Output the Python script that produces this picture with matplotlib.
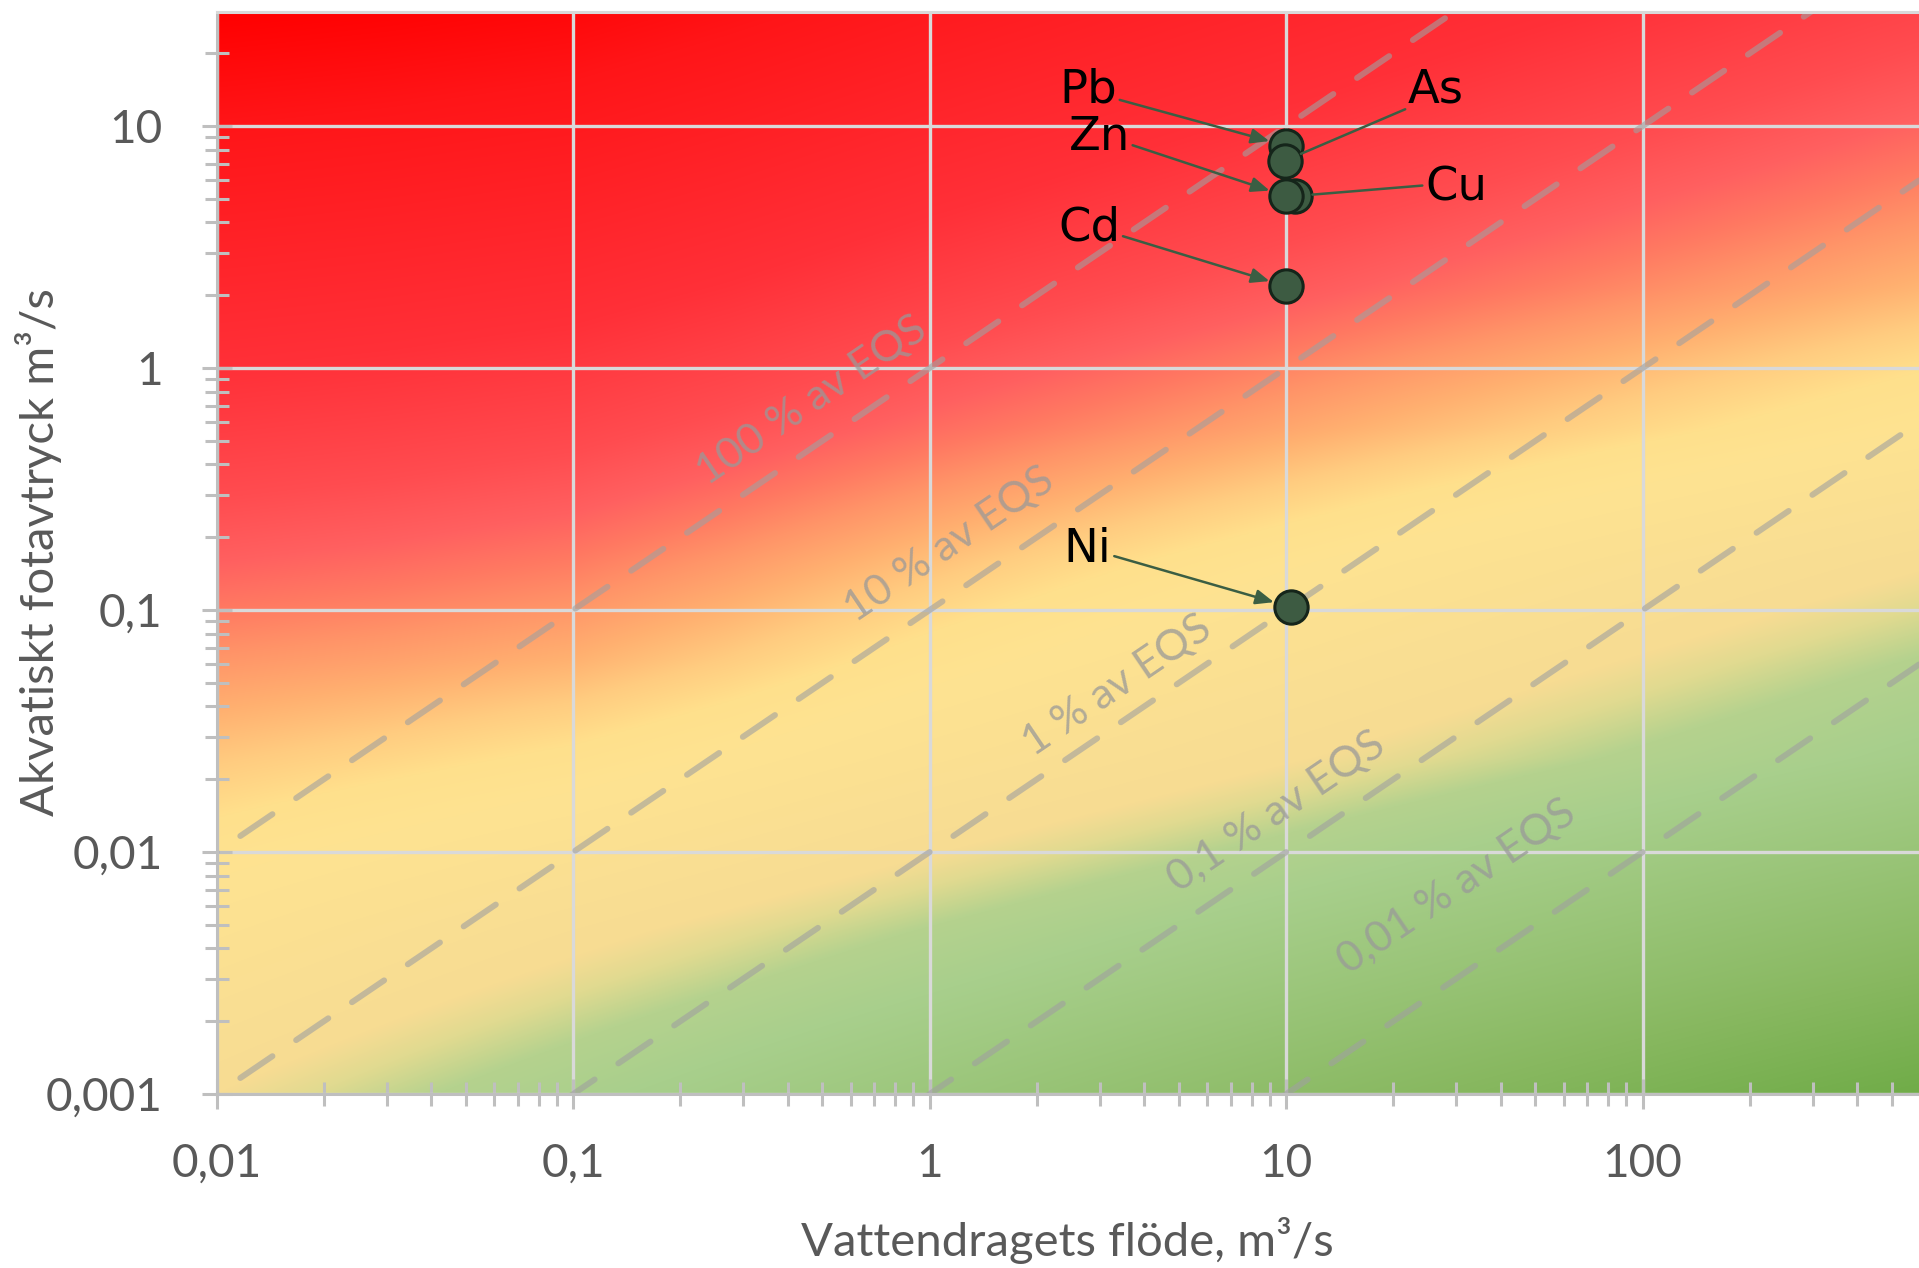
import numpy as np
import matplotlib
matplotlib.use("Agg")
import matplotlib.pyplot as plt
from matplotlib.colors import to_rgb
from matplotlib.ticker import FixedLocator, FixedFormatter, LogLocator, NullFormatter

# ---------------- data ----------------
metals = ["Pb", "As", "Cu", "Zn", "Cd", "Ni"]
flow = [10.0, 9.93, 10.6, 10.0, 10.0, 10.3]          # m3/s
footprint = [8.3, 7.2, 5.14, 5.14, 2.18, 0.103]      # m3/s

eqs_fractions = [1, 0.1, 0.01, 0.001, 0.0001]
eqs_labels = ["100 % av EQS", "10 % av EQS", "1 % av EQS", "0,1 % av EQS", "0,01 % av EQS"]

x_ticks = [0.01, 0.1, 1, 10, 100]
x_ticklabels = ["0,01", "0,1", "1", "10", "100"]
y_ticks = [0.001, 0.01, 0.1, 1, 10]
y_ticklabels = ["0,001", "0,01", "0,1", "1", "10"]

# ---------------- layout / style ----------------
W, H = 1919, 1268
X0_PX, Y0_PX = 216.6, 1094.1       # position of (0.01, 0.001)
DEC_X, DEC_Y = 356.5, 242.0        # pixels per decade
TOP_PX = 12

eqs_label_pos = [(0.466, 0.736), (1.14, 0.187), (3.37, 0.0489), (9.4, 0.0147), (30.1, 0.00716)]

label_offsets = {  # text baseline-centre offsets in points
    "Pb": (-142.6, 31.0), "As": (108.7, 41.8), "Zn": (-134.6, 33.1),
    "Cu": (115.9, -2.9), "Cd": (-141.8, 33.1), "Ni": (-146.2, 32.4)}
label_relpos = {"Pb": (1, 0.3), "As": (0, 0.1), "Zn": (1, 0.35),
                "Cu": (0, 0.55), "Cd": (1, 0.33), "Ni": (1, 0.37)}
arrow_heads = {"Pb": True, "As": False, "Zn": True, "Cu": False, "Cd": True, "Ni": True}

# background gradient: colour stops along t
grad_t = [0.0, 0.105, 0.33, 0.45, 0.509, 0.554, 0.595, 0.646, 0.696, 0.745, 0.80, 1.0,
          1.04, 1.09, 1.17, 1.5, 1.7, 2.0]
grad_c = ["#FF0000", "#FF1518", "#FF3038", "#FF4C50", "#FF6060", "#FF7A62", "#FF9468",
          "#FFB070", "#FFCC80", "#FFE08C", "#FEE391", "#F7DC93",
          "#E0DA90", "#B5D28E", "#A8CF8C", "#88B860", "#70AC48", "#68A840"]
# right-edge warp (v from top -> t)
warp_v = [0.0, 0.104, 0.192, 0.256, 0.319, 0.385, 0.509, 0.552, 0.604, 0.69, 0.889, 1.0]
warp_t = [0.42, 0.515, 0.595, 0.655, 0.73, 0.80, 0.99, 1.04, 1.10, 1.19, 1.5, 1.7]
# horizontal blending profile for the upper (red/orange) part
blend_u = [0.0, 0.1, 0.209, 0.3, 0.42, 0.7, 1.0]
blend_g = [0.0, 0.04, 0.10, 0.20, 0.35, 0.67, 1.0]

xmax = 10 ** ((W - X0_PX) / DEC_X - 2)
ymax = 10 ** ((Y0_PX - TOP_PX) / DEC_Y - 3)

fig = plt.figure(figsize=(W / 100, H / 100), dpi=100)
ax = fig.add_axes([X0_PX / W, (H - Y0_PX) / H, 1 - X0_PX / W, (Y0_PX - TOP_PX) / H])
ax.set_xscale("log")
ax.set_yscale("log")
ax.set_xlim(0.01, xmax)
ax.set_ylim(0.001, ymax)

# gradient image
nu, nv = 900, 600
u = np.linspace(0, 1, nu)[None, :]
v = np.linspace(0, 1, nv)[:, None]
w1 = np.interp(v, warp_v, warp_t)
g_up = np.interp(u, blend_u, blend_g)
mix = np.clip((v - 0.6) / 0.25, 0, 1)
g = (1 - mix) * g_up + mix * u
t = v + g * (w1 - v)
cols = np.array([to_rgb(c) for c in grad_c])
img = np.stack([np.interp(t, grad_t, cols[:, k]) for k in range(3)], axis=-1)
ax.imshow(img, extent=(0, 1, 0, 1), transform=ax.transAxes, origin="upper",
          aspect="auto", interpolation="bilinear", zorder=0)

# grid
ax.set_axisbelow(True)
ax.grid(True, which="major", color="#D9D9D9", lw=2.4, zorder=0.5)

# EQS lines
xs = np.array([0.01, xmax])
for f in eqs_fractions:
    ax.plot(xs, f * xs, color="#A0A0A0", alpha=0.6, lw=4.3,
            linestyle=(6.5, (6.5, 4.8)), dash_capstyle="round", zorder=1)

p1 = ax.transData.transform((1, 1))
p2 = ax.transData.transform((10, 10))
ang = np.degrees(np.arctan2(p2[1] - p1[1], p2[0] - p1[0]))
for lab, (lx, ly) in zip(eqs_labels, eqs_label_pos):
    ax.text(lx, ly, lab, rotation=ang, rotation_mode="anchor", ha="center", va="center",
            fontsize=31, family="Lato", color="#999999", alpha=0.75, zorder=1.5)

# points
ax.scatter(flow, footprint, s=24 ** 2, color="#3D5B42", edgecolor="#15251A",
           linewidth=2.2, zorder=4)

for m, x, y in zip(metals, flow, footprint):
    style = "-|>,head_length=1.1,head_width=0.45" if arrow_heads[m] else "-"
    ax.annotate(m, xy=(x, y), xytext=label_offsets[m], textcoords="offset points",
                ha="center", va="baseline", fontsize=33.5, family="DejaVu Sans",
                color="black", zorder=5,
                arrowprops=dict(arrowstyle=style, color="#3B5E43", lw=1.8,
                                mutation_scale=10, shrinkA=0, shrinkB=12.5,
                                relpos=label_relpos[m]))

# ticks
ax.xaxis.set_major_locator(FixedLocator(x_ticks))
ax.xaxis.set_major_formatter(FixedFormatter(x_ticklabels))
ax.yaxis.set_major_locator(FixedLocator(y_ticks))
ax.yaxis.set_major_formatter(FixedFormatter(y_ticklabels))
ax.xaxis.set_minor_locator(LogLocator(base=10, subs=np.arange(2, 10)))
ax.yaxis.set_minor_locator(LogLocator(base=10, subs=np.arange(2, 10)))
ax.xaxis.set_minor_formatter(NullFormatter())
ax.yaxis.set_minor_formatter(NullFormatter())
ax.tick_params(which="major", direction="inout", length=22, width=2.2, color="#BFBFBF",
               labelsize=33, labelcolor="#595959")
ax.tick_params(which="minor", direction="inout", length=17, width=2.2, color="#BFBFBF")
ax.tick_params(axis="y", which="major", pad=28)
ax.tick_params(axis="x", which="major", pad=24)
for lbl in ax.get_xticklabels() + ax.get_yticklabels():
    lbl.set_family("Lato")

for s in ["left", "bottom"]:
    ax.spines[s].set_color("#BFBFBF")
    ax.spines[s].set_linewidth(2.2)
ax.spines["top"].set_color("#D9D9D9")
ax.spines["top"].set_linewidth(2.2)
ax.spines["right"].set_visible(False)

fig.text(1067 / W, 1 - 1240 / H, "Vattendragets flöde, m³/s", ha="center", va="center",
         fontsize=34, family="Lato", color="#595959")
fig.text(39 / W, 1 - 552 / H, "Akvatiskt fotavtryck m³/s", ha="center", va="center",
         rotation=90, fontsize=34, family="Lato", color="#595959")

fig.savefig("out.png", dpi=100)
